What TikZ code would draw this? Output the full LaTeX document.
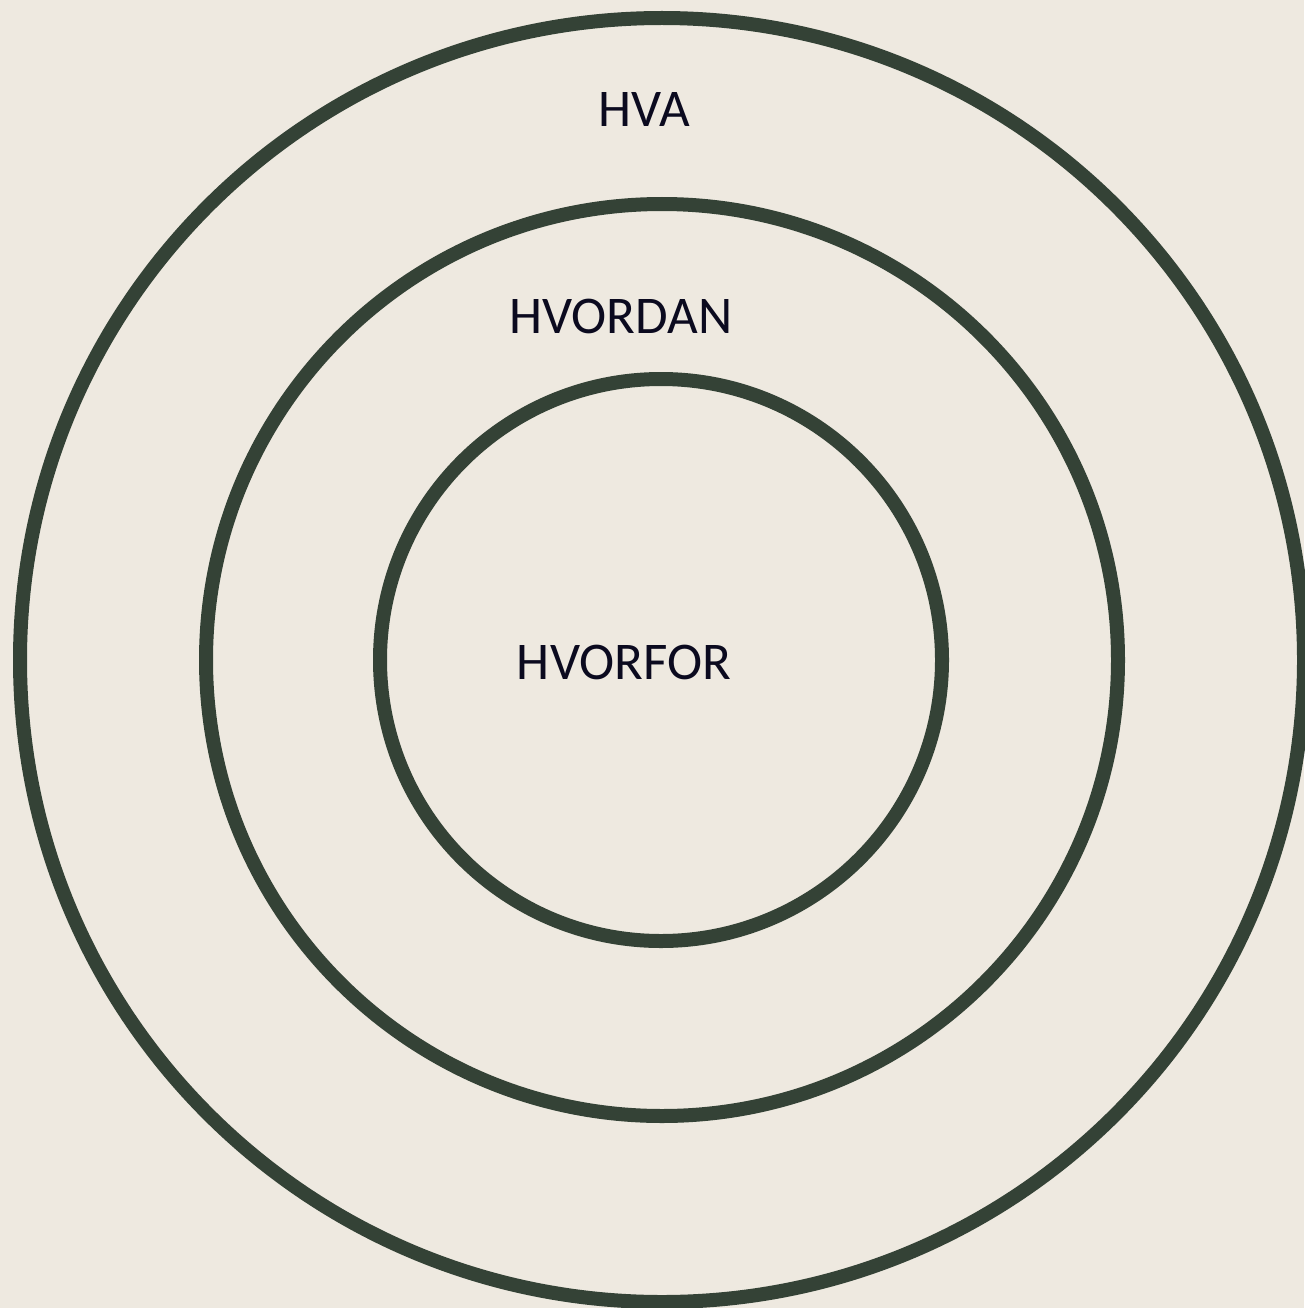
\documentclass[tikz,border=0pt]{standalone}
\usepackage{fontspec}
\setmainfont{Carlito}
\definecolor{bg}{HTML}{EEE9E0}
\definecolor{ring}{HTML}{344236}
\definecolor{ink}{HTML}{0B0A1F}
\begin{document}
\begin{tikzpicture}[x=1pt,y=-1pt,
  ringline/.style={draw=ring,line width=14pt},
  label/.style={text=ink,font=\fontsize{53}{62}\selectfont,anchor=base,inner sep=0pt}]
\fill[bg] (0,0) rectangle (1304,1308);
\useasboundingbox (0,0) rectangle (1304,1308);
\coordinate (c) at (662,660);
\draw[ringline] (c) circle[radius=642];
\draw[ringline] (c) circle[radius=456];
\draw[ringline] (661,660) circle[radius=281];
\node[label] (hva) at (644,127) {HVA};
\node[label] (hvordan) at (621,333) {HVORDAN};
\node[label] (hvorfor) at (624,679) {HVORFOR};
\end{tikzpicture}
\end{document}
